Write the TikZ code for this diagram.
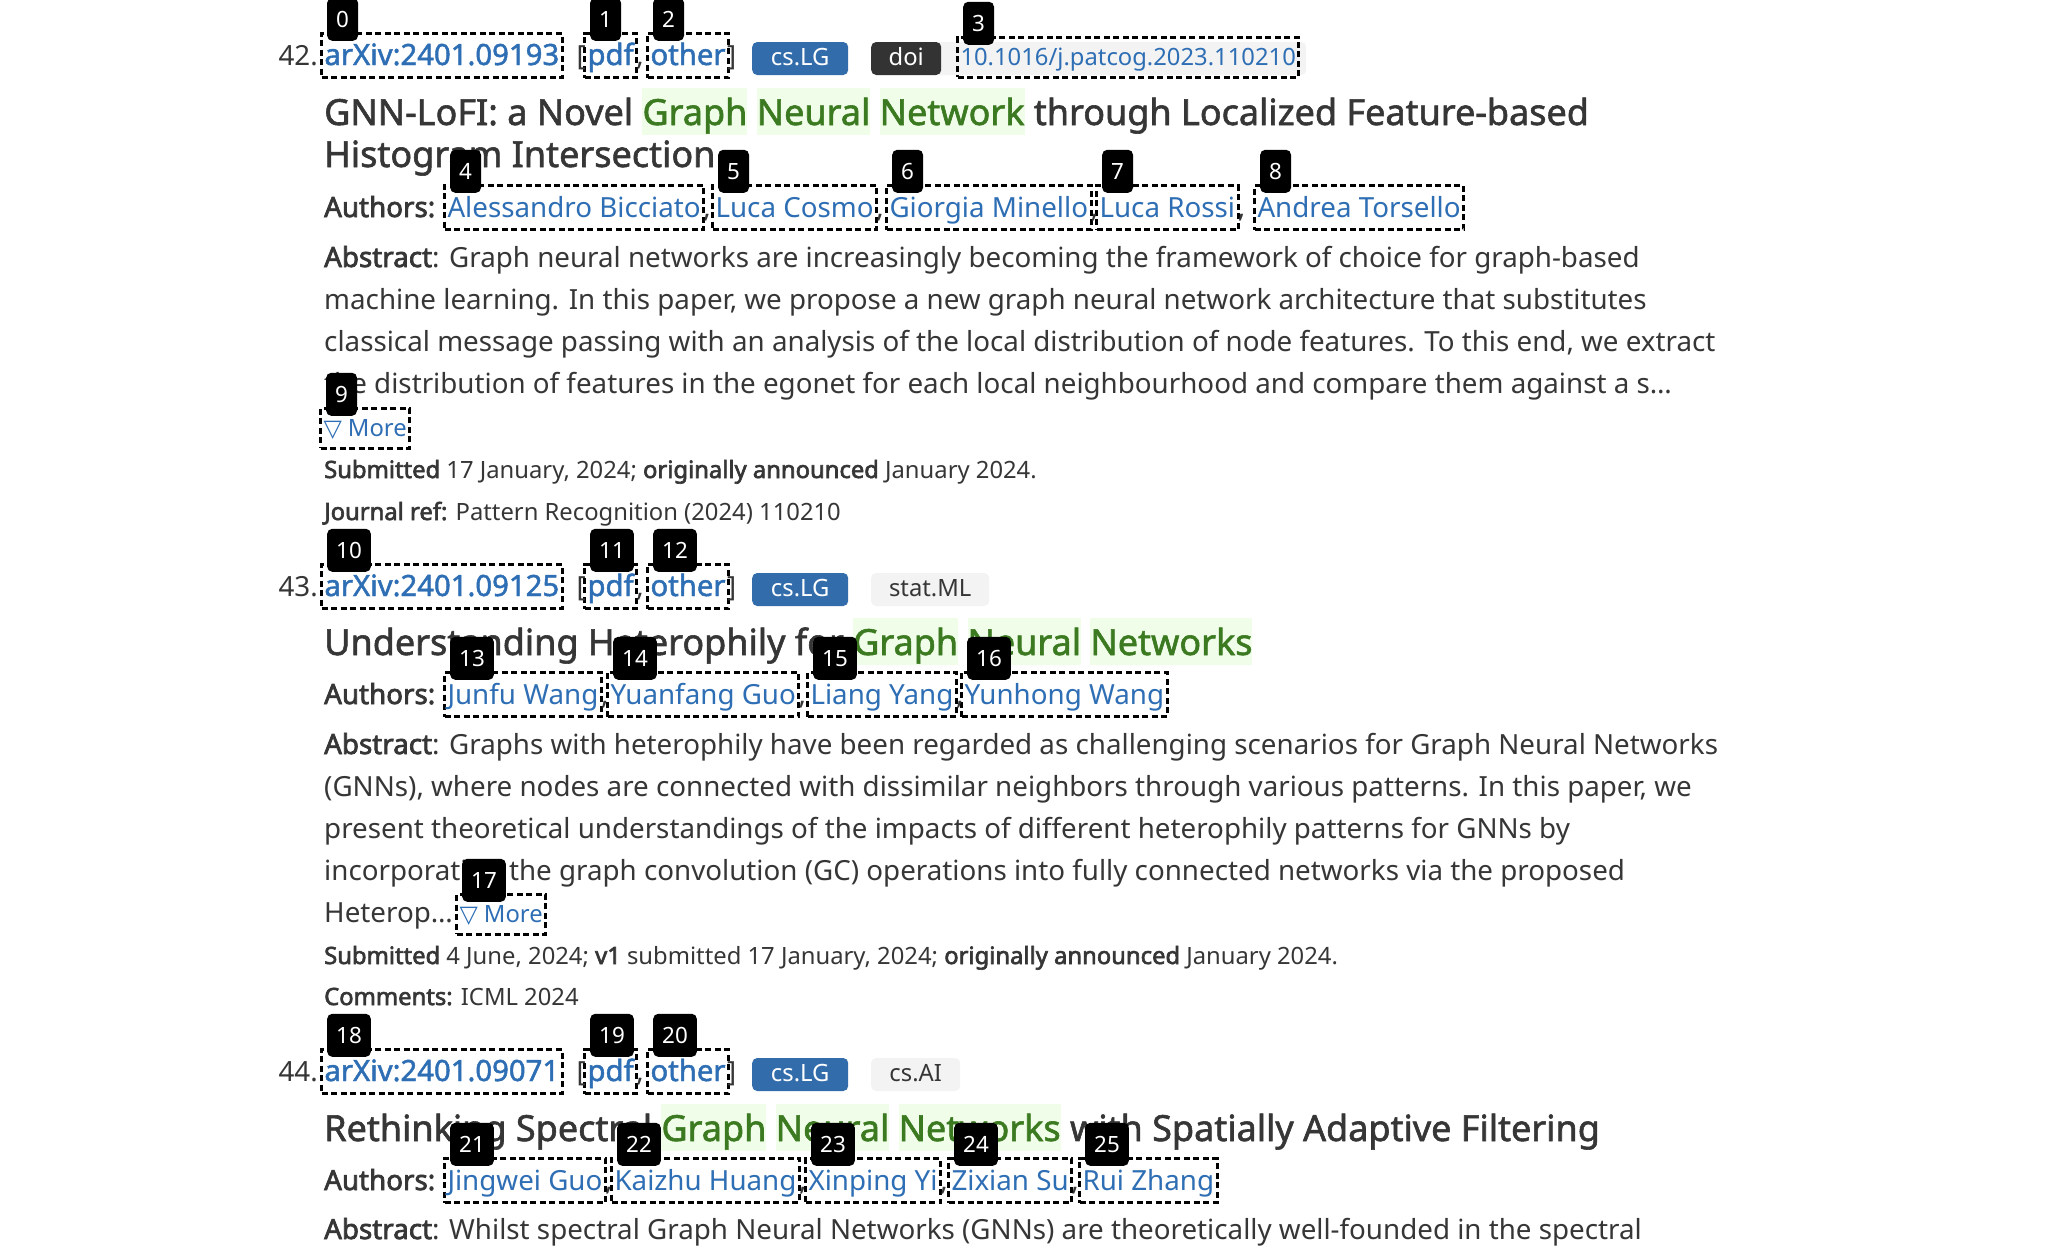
\documentclass[tikz,border=0pt]{standalone}
\usepackage{fontspec}
\setmainfont{Noto Sans}[BoldFont={Noto Sans}, BoldFeatures={FakeBold=2.6}]
\newfontfamily\semib{Noto Sans}[FakeBold=1.6]
\newfontfamily\symb{DejaVu Sans}

\definecolor{ink}{HTML}{363636}
\definecolor{linkblue}{RGB}{46,110,180}
\definecolor{csblue}{RGB}{50,108,170}
\definecolor{doidark}{HTML}{333333}
\definecolor{tagbg}{HTML}{F3F3F3}
\definecolor{hlgreen}{RGB}{59,122,32}
\definecolor{hlbg}{RGB}{240,253,233}

\newcommand{\fbody}{\fontsize{27.75}{32}\selectfont}
\newcommand{\fid}{\fontsize{29.3}{33}\selectfont}
\newcommand{\fsmall}{\fontsize{23.8}{27}\selectfont}
\newcommand{\ftag}{\fontsize{22.4}{26}\selectfont}
\newcommand{\ftitle}{\semib\fontsize{36}{40}\selectfont}
\newcommand{\hlword}[1]{{\setlength{\fboxsep}{0pt}\colorbox{hlbg}{\rule[-10pt]{0pt}{47pt}\textcolor{hlgreen}{#1}}}}

\begin{document}
\begin{tikzpicture}[x=1pt, y=-1pt,
  txt/.style = {inner sep=0pt, anchor=base west, text=ink, font=\fbody},
  sml/.style = {txt, font=\fsmall},
  ttl/.style = {txt, font=\ftitle},
  lnk/.style = {txt, text=linkblue},
  slnk/.style = {sml, text=linkblue},
  idl/.style = {lnk, font=\semib\fid},
  dbox/.style = {draw=black, line width=3pt, dash pattern=on 6pt off 3.5pt, inner xsep=3pt, inner ysep=4pt, text height=27.5pt, text depth=8.5pt},
  dboxs/.style = {dbox, text height=23.5pt, text depth=8pt},
  badge/.style = {anchor=base west, rounded corners=5pt, inner xsep=12pt, inner ysep=6pt, text height=17pt, text depth=4pt, font=\fsmall},
  tag/.style = {fill=black, text=white, rounded corners=5pt, minimum height=43pt, inner xsep=9pt, inner ysep=0pt, anchor=south west, font=\ftag}]
    \fill[white] (0,0) rectangle (2048,1258);
    \useasboundingbox (0,0) rectangle (2048,1258);

    % entry 42
    \node[txt, anchor=base east] (n42) at (318,65) {42.};
    \node[idl, dbox] (b0) at (320,65) {arXiv:2401.09193};
    \node[idl, dbox] (b1) at (583,65) {pdf};
    \node[idl, dbox] (b2) at (646,65) {other};
    \node[txt, anchor=base east] (lb42) at ([xshift=3pt]b1.base west) {[};
    \node[txt] (cm42) at ([xshift=-2pt]b1.base east) {,};
    \node[txt] (rb42) at ([xshift=-3pt]b2.base east) {]};
    \node[badge, fill=csblue, text=white, minimum width=96pt] (cs42) at (752,65) {cs.LG};
    \node[badge, fill=tagbg, minimum width=371pt] (dbg42) at (935,65) {};
    \node[badge, fill=doidark, text=white, minimum width=70pt] (doi42) at (871,65) {doi};
    \node[slnk, dboxs] (b3) at (956,65) {10.1016/j.patcog.2023.110210};

    \node[ttl] (ti42a) at (324,125) {GNN-LoFI: a Novel \hlword{Graph} \hlword{Neural} \hlword{Network} through Localized Feature-based};
    \node[ttl] (ti42b) at (324,167) {Histogram Intersection};

    \node[txt, font=\bfseries\fbody] (au42) at (324,217) {Authors:};
    \node[lnk, dbox] (b4) at (443,217) {Alessandro Bicciato};
    \node[lnk, dbox] (b5) at (711,217) {Luca Cosmo};
    \node[lnk, dbox] (b6) at (885,217) {Giorgia Minello};
    \node[lnk, dbox] (b7) at (1095,217) {Luca Rossi};
    \node[lnk, dbox] (b8) at (1253,217) {Andrea Torsello};
    \foreach \k in {4,5,6,7}
        \node[txt] (k\k) at ([xshift=-2pt]b\k.base east) {,};

    \node[txt] (ab42a) at (324,267) {\textbf{Abstract}: Graph neural networks are increasingly becoming the framework of choice for graph-based};
    \node[txt] (ab42b) at (324,309) {machine learning. In this paper, we propose a new graph neural network architecture that substitutes};
    \node[txt] (ab42c) at (324,351) {classical message passing with an analysis of the local distribution of node features. To this end, we extract};
    \node[txt] (ab42d) at (324,393) {the distribution of features in the egonet for each local neighbourhood and compare them against a s\dots};
    \node[slnk, dboxs] (b9) at (319,436) {{\symb ▽} More};
    \node[sml] (sb42) at (324,478) {\textbf{Submitted} 17 January, 2024; \textbf{originally announced} January 2024.};
    \node[sml] (jr42) at (324,520) {\textbf{Journal ref:} Pattern Recognition (2024) 110210};

    % entry 43
    \node[txt, anchor=base east] (n43) at (318,596) {43.};
    \node[idl, dbox] (b10) at (320,596) {arXiv:2401.09125};
    \node[idl, dbox] (b11) at (583,596) {pdf};
    \node[idl, dbox] (b12) at (646,596) {other};
    \node[txt, anchor=base east] (lb43) at ([xshift=3pt]b11.base west) {[};
    \node[txt] (cm43) at ([xshift=-2pt]b11.base east) {,};
    \node[txt] (rb43) at ([xshift=-3pt]b12.base east) {]};
    \node[badge, fill=csblue, text=white, minimum width=96pt] (cs43) at (752,596) {cs.LG};
    \node[badge, fill=tagbg, text=ink, minimum width=118pt] (st43) at (871,596) {stat.ML};

    \node[ttl] (ti43) at (324,655) {Understanding Heterophily for \hlword{Graph} \hlword{Neural} \hlword{Networks}};

    \node[txt, font=\bfseries\fbody] (au43) at (324,704) {Authors:};
    \node[lnk, dbox] (b13) at (443,704) {Junfu Wang};
    \node[lnk, dbox] (b14) at (606,704) {Yuanfang Guo};
    \node[lnk, dbox] (b15) at (806,704) {Liang Yang};
    \node[lnk, dbox] (b16) at (960,704) {Yunhong Wang};
    \foreach \k in {13,14,15}
        \node[txt] (k\k) at ([xshift=-2pt]b\k.base east) {,};

    \node[txt] (ab43a) at (324,754) {\textbf{Abstract}: Graphs with heterophily have been regarded as challenging scenarios for Graph Neural Networks};
    \node[txt] (ab43b) at (324,796) {(GNNs), where nodes are connected with dissimilar neighbors through various patterns. In this paper, we};
    \node[txt] (ab43c) at (324,838) {present theoretical understandings of the impacts of different heterophily patterns for GNNs by};
    \node[txt] (ab43d) at (324,880) {incorporating the graph convolution (GC) operations into fully connected networks via the proposed};
    \node[txt] (ab43e) at (324,922) {Heterop\dots};
    \node[slnk, dboxs] (b17) at (455,922) {{\symb ▽} More};
    \node[sml] (sb43) at (324,964) {\textbf{Submitted} 4 June, 2024; \textbf{v1} submitted 17 January, 2024; \textbf{originally announced} January 2024.};
    \node[sml] (cm43b) at (324,1005) {\textbf{Comments:} ICML 2024};

    % entry 44
    \node[txt, anchor=base east] (n44) at (318,1081) {44.};
    \node[idl, dbox] (b18) at (320,1081) {arXiv:2401.09071};
    \node[idl, dbox] (b19) at (583,1081) {pdf};
    \node[idl, dbox] (b20) at (646,1081) {other};
    \node[txt, anchor=base east] (lb44) at ([xshift=3pt]b19.base west) {[};
    \node[txt] (cm44) at ([xshift=-2pt]b19.base east) {,};
    \node[txt] (rb44) at ([xshift=-3pt]b20.base east) {]};
    \node[badge, fill=csblue, text=white, minimum width=96pt] (cs44) at (752,1081) {cs.LG};
    \node[badge, fill=tagbg, text=ink, minimum width=89pt] (ai44) at (871,1081) {cs.AI};

    \node[ttl] (ti44) at (324,1141) {Rethinking Spectral \hlword{Graph} \hlword{Neural} \hlword{Networks} with Spatially Adaptive Filtering};

    \node[txt, font=\bfseries\fbody] (au44) at (324,1190) {Authors:};
    \node[lnk, dbox] (b21) at (443,1190) {Jingwei Guo};
    \node[lnk, dbox] (b22) at (610,1190) {Kaizhu Huang};
    \node[lnk, dbox] (b23) at (804,1190) {Xinping Yi};
    \node[lnk, dbox] (b24) at (947,1190) {Zixian Su};
    \node[lnk, dbox] (b25) at (1078,1190) {Rui Zhang};
    \foreach \k in {21,22,23,24}
        \node[txt] (k\k) at ([xshift=-2pt]b\k.base east) {,};

    \node[txt] (ab44a) at (324,1239) {\textbf{Abstract}: Whilst spectral Graph Neural Networks (GNNs) are theoretically well-founded in the spectral};

    % number tags on top
    \foreach \n in {0,...,25}
        \node[tag] (t\n) at ([xshift=7pt, yshift=-9pt]b\n.north west) {\n};
\end{tikzpicture}
\end{document}
